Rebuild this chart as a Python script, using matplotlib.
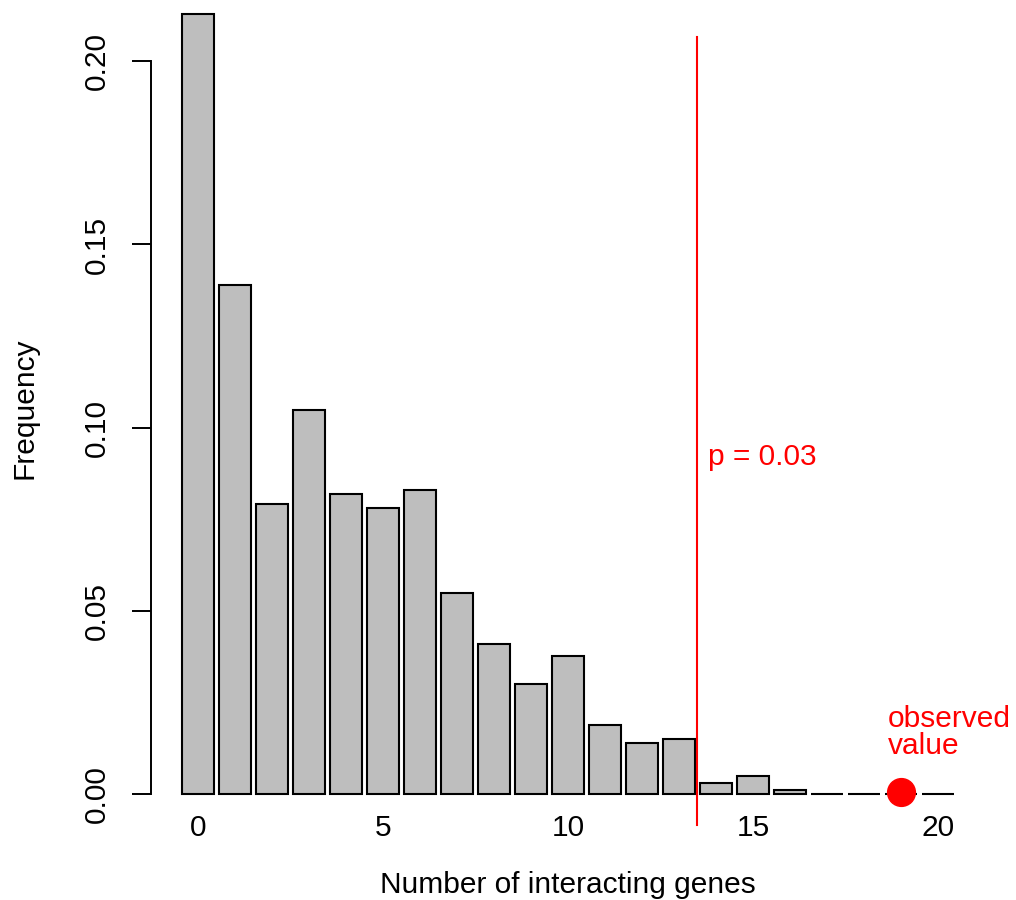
import matplotlib
matplotlib.use("Agg")
import matplotlib.pyplot as plt

plt.rcParams['font.family'] = ['Liberation Sans', 'DejaVu Sans']

# null distribution of interacting genes
n_genes = list(range(21))
freq = [0.2130, 0.1389, 0.0791, 0.1048, 0.0818, 0.0780, 0.0830, 0.0548,
        0.0410, 0.0300, 0.0378, 0.0190, 0.0140, 0.0150, 0.0032, 0.0051,
        0.0012, 0.0, 0.0, 0.0, 0.0]
x_ticks = [0, 5, 10, 15, 20]
y_ticks = [0.00, 0.05, 0.10, 0.15, 0.20]
y_ticklabels = ["0.00", "0.05", "0.10", "0.15", "0.20"]

cutoff = 13.5        # p = 0.03 threshold
observed = 19
observed_y = 0.0007
p_label = "p = 0.03"

fs = 21.5

fig = plt.figure(figsize=(10.16, 9.0), dpi=100)
ax = fig.add_axes([0.1486, 0.0828, 0.8209, 0.9172])

ax.bar(n_genes, freq, width=0.86, color='#BEBEBE', edgecolor='black', linewidth=1.5)

ax.plot([cutoff, cutoff], [-0.0085, 0.2067], color='red', lw=1.5, clip_on=False)
ax.plot([observed], [observed_y], 'o', color='red', markersize=20, clip_on=False, zorder=5)
ax.text(13.79, 0.0921, p_label, color='red', fontsize=fs, ha='left', va='center')
ax.text(18.65, 0.0169, "observed\nvalue", color='red', fontsize=fs, ha='left', va='center',
        linespacing=0.95)

ax.set_xlim(-1.268, 21.27)
ax.set_ylim(-0.0085, 0.2167)

for s in ['top', 'right', 'bottom']:
    ax.spines[s].set_visible(False)
ax.spines['left'].set_bounds(0, 0.2)
ax.spines['left'].set_linewidth(1.4)

ax.set_xticks(x_ticks)
ax.set_xticklabels([str(t) for t in x_ticks])
ax.tick_params(axis='x', length=0, pad=-8, labelsize=fs)
ax.set_yticks(y_ticks)
ax.set_yticklabels(y_ticklabels, rotation=90, va='center')
ax.tick_params(axis='y', length=14, width=1.4, pad=15, labelsize=fs)

ax.set_xlabel("Number of interacting genes", fontsize=fs)
ax.xaxis.set_label_coords(0.5, -0.0818)
ax.xaxis.label.set_va('baseline')
ax.set_ylabel("Frequency", fontsize=fs)
ax.yaxis.set_label_coords(-0.135, 0.506)

fig.savefig("out.png", dpi=100)
